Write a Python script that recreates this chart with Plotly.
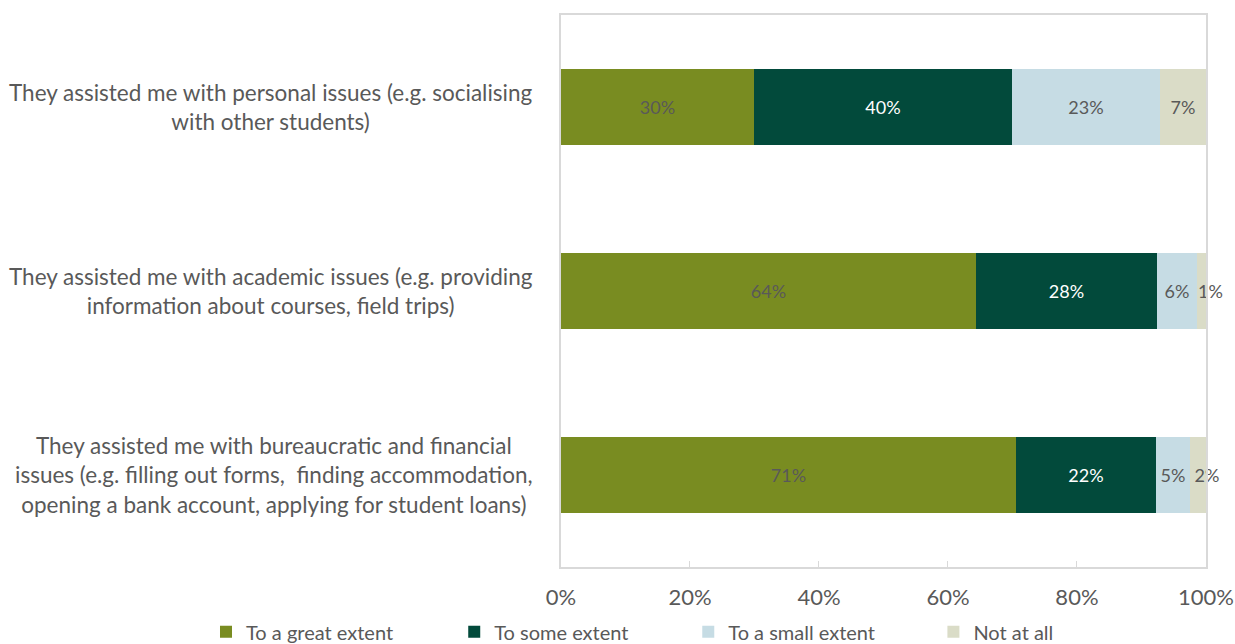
import plotly.graph_objects as go

CATEGORIES = [
    "They assisted me with personal issues (e.g. socialising<br>with other students)",
    "They assisted me with academic issues (e.g. providing<br>information about courses, field trips)",
    "They assisted me with bureaucratic and financial<br>issues (e.g. filling out forms,  finding accommodation,<br>opening a bank account, applying for student loans)",
]
SERIES = ["To a great extent", "To some extent", "To a small extent", "Not at all"]
GREAT = [29.9, 64.3, 70.6]
SOME = [40.0, 28.1, 21.6]
SMALL = [23.0, 6.2, 5.4]
NOT_AT_ALL = [7.1, 1.4, 2.4]
X_TICKS = [0, 20, 40, 60, 80, 100]
X_TICK_LABELS = ["0%", "20%", "40%", "60%", "80%", "100%"]

COLORS = ["#798c21", "#024a3b", "#c6dce4", "#dadcc7"]
LABEL_COLORS = ["#595959", "#ffffff", "#595959", "#595959"]
LEGEND_X = [0.1668, 0.3678, 0.5573, 0.7558]  # one legend per series, Excel-like spacing
FONT = "Lato, Open Sans, sans-serif"
GRAY = "#595959"


def bar(name, vals, color, tcolor, lg, template="%{x:.0f}%", showlegend=True):
    return go.Bar(
        y=CATEGORIES,
        x=vals,
        name=name,
        orientation="h",
        marker=dict(color=color, line=dict(width=0)),
        width=0.41,
        texttemplate=template,
        textposition="inside",
        textangle=0,
        insidetextanchor="middle",
        constraintext="none",
        cliponaxis=False,
        insidetextfont=dict(family=FONT, size=18, color=tcolor),
        hoverinfo="skip",
        legend=lg,
        legendgroup=name,
        showlegend=showlegend,
    )


fig = go.Figure()
legend_ids = ["legend", "legend2", "legend3", "legend4"]
for name, vals, color, tcolor, lg in zip(SERIES[:3], [GREAT, SOME, SMALL],
                                         COLORS, LABEL_COLORS, legend_ids):
    fig.add_trace(bar(name, vals, color, tcolor, lg))

# "Not at all": labels of the thin slivers spill to the right, as in Excel
wide = [v if v >= 4 else None for v in NOT_AT_ALL]
thin = [v if v < 4 else None for v in NOT_AT_ALL]
fig.add_trace(bar(SERIES[3], wide, COLORS[3], LABEL_COLORS[3], "legend4"))
fig.add_trace(bar(SERIES[3], thin, COLORS[3], LABEL_COLORS[3], "legend4",
                  template="\u2002\u2002%{x:.0f}%", showlegend=False))

# category labels, centred block text like the original
for cat in CATEGORIES:
    fig.add_annotation(
        x=0, xref="paper", y=cat, yref="y",
        text=cat, showarrow=False, xanchor="right", xshift=-26,
        align="center", font=dict(family=FONT, size=22.5, color=GRAY),
    )

legends = {}
for lg, lx in zip(legend_ids, LEGEND_X):
    legends[lg] = dict(
        orientation="h", xref="container", yref="container",
        x=lx, xanchor="left", y=0.019, yanchor="middle",
        font=dict(family=FONT, size=20, color=GRAY),
        itemwidth=30, bgcolor="rgba(0,0,0,0)",
    )

fig.update_layout(
    barmode="stack",
    width=1235, height=644,
    margin=dict(l=561, r=29, t=15, b=77),
    paper_bgcolor="white",
    plot_bgcolor="white",
    font=dict(family=FONT, size=20, color=GRAY),
    bargap=0,
    showlegend=True,
    xaxis=dict(
        # tiny headroom so float sums of ~100 are not treated as out of range
        range=[0, 100.01], tickvals=X_TICKS, ticktext=X_TICK_LABELS,
        showgrid=False, zeroline=False, automargin=False,
        showline=True, mirror=True, linecolor="#d9d9d9", linewidth=1.5,
        ticks="inside", ticklen=6, tickcolor="#d9d9d9",
        ticklabelstandoff=10,
        tickfont=dict(family=FONT, size=22, color=GRAY),
    ),
    yaxis=dict(
        autorange="reversed", showticklabels=False, showgrid=False,
        zeroline=False, showline=True, mirror=True, automargin=False,
        linecolor="#d9d9d9", linewidth=1.5, ticks="",
    ),
    **legends,
)

fig.write_html("out.html", config={"displayModeBar": False},
               post_script="document.body.style.margin='0';")
